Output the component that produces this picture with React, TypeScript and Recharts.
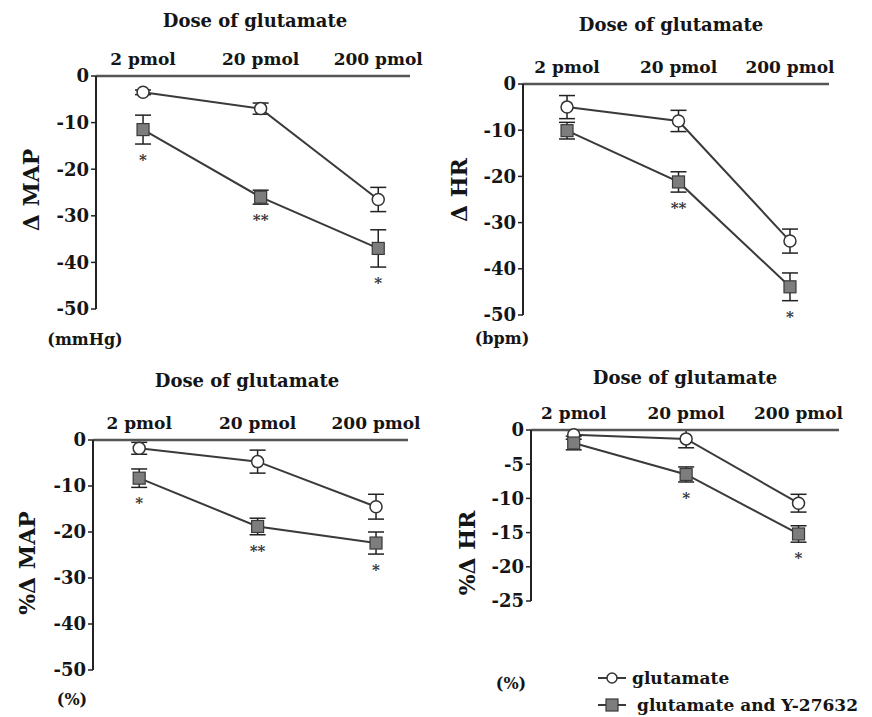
import React from 'react';
import { LineChart, Line, XAxis, YAxis, ErrorBar, LabelList, Legend } from 'recharts';

const categories = ['2 pmol', '20 pmol', '200 pmol'];
const seriesNames = ['glutamate', 'glutamate and Y-27632'];
const panelTitle = 'Dose of glutamate';

const mapGlu = [-3.5, -7, -26.5];
const mapGluErr = [0.5, 1.2, 2.6];
const mapY = [-11.5, -26, -37];
const mapYErr = [3.1, 1.5, 4];
const mapSig = ['*', '**', '*'];
const mapTicks = [0, -10, -20, -30, -40, -50];

const hrGlu = [-5, -8, -34];
const hrGluErr = [2.5, 2.3, 2.6];
const hrY = [-10.1, -21.2, -43.9];
const hrYErr = [1.8, 2.2, 3];
const hrSig = ['', '**', '*'];
const hrTicks = [0, -10, -20, -30, -40, -50];

const pMapGlu = [-1.8, -4.7, -14.5];
const pMapGluErr = [1.3, 2.5, 2.7];
const pMapY = [-8.3, -18.8, -22.4];
const pMapYErr = [2, 1.8, 2.4];
const pMapSig = ['*', '**', '*'];
const pMapTicks = [0, -10, -20, -30, -40, -50];

const pHrGlu = [-0.7, -1.3, -10.7];
const pHrGluErr = [0.65, 1.3, 1.3];
const pHrY = [-1.9, -6.5, -15.2];
const pHrYErr = [1, 1.1, 1.2];
const pHrSig = ['', '*', '*'];
const pHrTicks = [0, -5, -10, -15, -20, -25];

const FONT = '"DejaVu Serif", "Liberation Serif", serif';
const INK = '#151515';
const LINE = '#3a3a3a';

function build(g: number[], ge: number[], y: number[], ye: number[], sig: string[]) {
  return categories.map((c, i) => ({
    i,
    cat: c,
    g: g[i],
    ge: ge[i],
    y: y[i],
    ye: ye[i],
    lo: y[i] - ye[i],
    sig: sig[i],
  }));
}

const CircleDot = (p: any) => (
  <circle key={'c' + p.index} cx={p.cx} cy={p.cy} r={6} fill="#fff" stroke="#333" strokeWidth={1.5} />
);
const SquareDot = (p: any) => (
  <rect key={'s' + p.index} x={p.cx - 6} y={p.cy - 6} width={12} height={12} fill="#7d7d7d" stroke="#3a3a3a" strokeWidth={1.2} />
);

const SigLabel = (p: any) => {
  if (!p.value) return null;
  return (
    <text x={p.x} y={p.y + 21} textAnchor="middle" fontFamily={FONT} fontWeight="bold" fontSize={15} fill="#333">
      {p.value}
    </text>
  );
};

type PanelProps = {
  left: number; top: number; width: number; height: number;
  margin: { top: number; left: number; right: number; bottom: number };
  xDomain: [number, number];
  yDomain: [number, number];
  ticks: number[];
  data: any[];
  legend?: boolean;
};

function Panel(props: PanelProps) {
  const { left, top, width, height, margin, xDomain, yDomain, ticks, data, legend } = props;
  return (
    <div style={{ position: 'absolute', left, top, width, height }}>
      <LineChart width={width} height={height} data={data} margin={margin}>
        <XAxis
          dataKey="i"
          type="number"
          orientation="top"
          domain={xDomain}
          ticks={[0, 1, 2]}
          allowDataOverflow
          tickFormatter={(v: number) => categories[v] ?? ''}
          tickLine={false}
          axisLine={{ stroke: '#555', strokeWidth: 2.5 }}
          tickMargin={5}
          height={30}
          interval={0}
          tick={{ fontFamily: FONT, fontWeight: 'bold', fontSize: 17, fill: INK }}
        />
        <YAxis
          type="number"
          domain={yDomain}
          ticks={ticks}
          interval={0}
          width={40}
          tickSize={5}
          tickMargin={2}
          axisLine={{ stroke: '#222', strokeWidth: 2 }}
          tickLine={{ stroke: '#222', strokeWidth: 1.5 }}
          tick={{ fontFamily: FONT, fontWeight: 'bold', fontSize: 18, fill: INK }}
        />
        <Line
          dataKey="lo"
          stroke="none"
          dot={false}
          activeDot={false}
          legendType="none"
          isAnimationActive={false}
        >
          <LabelList dataKey="sig" content={SigLabel} />
        </Line>
        <Line
          dataKey="g"
          name={seriesNames[0]}
          stroke={LINE}
          strokeWidth={2}
          dot={CircleDot}
          activeDot={false}
          isAnimationActive={false}
        >
          <ErrorBar dataKey="ge" width={8} stroke="#222" strokeWidth={1.5} direction="y" />
        </Line>
        <Line
          dataKey="y"
          name={seriesNames[1]}
          stroke={LINE}
          strokeWidth={2}
          dot={SquareDot}
          activeDot={false}
          isAnimationActive={false}
        >
          <ErrorBar dataKey="ye" width={8} stroke="#222" strokeWidth={1.5} direction="y" />
        </Line>
        {legend && (
          <Legend
            wrapperStyle={{ position: 'absolute', left: 160, top: 304, width: 300 }}
            content={() => (
              <div style={{ fontFamily: FONT, fontWeight: 'bold', fontSize: 17, color: INK }}>
                {seriesNames.map((n, k) => (
                  <div key={n} style={{ display: 'flex', alignItems: 'center', height: 27 }}>
                    <svg width={32} height={20} style={{ marginRight: k === 0 ? 4 : 9 }}>
                      <line x1={2} y1={10} x2={30} y2={10} stroke={LINE} strokeWidth={2} />
                      {k === 0 ? (
                        <circle cx={16} cy={10} r={5} fill="#fff" stroke="#333" strokeWidth={1.5} />
                      ) : (
                        <rect x={10} y={4} width={12} height={12} fill="#7d7d7d" stroke="#3a3a3a" strokeWidth={1.2} />
                      )}
                    </svg>
                    <span style={{ whiteSpace: 'nowrap' }}>{n}</span>
                  </div>
                ))}
              </div>
            )}
          />
        )}
      </LineChart>
    </div>
  );
}

const textBase: React.CSSProperties = {
  position: 'absolute',
  fontFamily: FONT,
  fontWeight: 'bold',
  color: INK,
  whiteSpace: 'nowrap',
  lineHeight: 1,
};

function Title({ x, y }: { x: number; y: number }) {
  return <div style={{ ...textBase, left: x, top: y, fontSize: 18, transform: 'translate(-50%, -50%)' }}>{panelTitle}</div>;
}
function Unit({ x, y, text }: { x: number; y: number; text: string }) {
  return <div style={{ ...textBase, left: x, top: y, fontSize: 16, transform: 'translate(-50%, -50%)' }}>{text}</div>;
}
function YLabel({ x, y, text }: { x: number; y: number; text: string }) {
  return (
    <div style={{ ...textBase, left: x, top: y, fontSize: 22, transform: 'translate(-50%, -50%) rotate(-90deg)' }}>{text}</div>
  );
}

export default function App() {
  return (
    <div style={{ position: 'absolute', left: 0, top: 0, width: 872, height: 717, background: '#fff', overflow: 'hidden' }}>
      <Panel
        left={0} top={0} width={436} height={360}
        margin={{ top: 46, left: 56, right: 26, bottom: 51 }}
        xDomain={[-0.4, 2.27]} yDomain={[-50, 0]} ticks={mapTicks}
        data={build(mapGlu, mapGluErr, mapY, mapYErr, mapSig)}
      />
      <Panel
        left={436} top={0} width={436} height={360}
        margin={{ top: 54, left: 47, right: 43, bottom: 45 }}
        xDomain={[-0.395, 2.35]} yDomain={[-50, 0]} ticks={hrTicks}
        data={build(hrGlu, hrGluErr, hrY, hrYErr, hrSig)}
      />
      <Panel
        left={0} top={360} width={436} height={357}
        margin={{ top: 50, left: 53, right: 28, bottom: 47 }}
        xDomain={[-0.39, 2.27]} yDomain={[-50, 0]} ticks={pMapTicks}
        data={build(pMapGlu, pMapGluErr, pMapY, pMapYErr, pMapSig)}
      />
      <Panel
        left={436} top={360} width={436} height={357}
        margin={{ top: 40, left: 55, right: 33, bottom: 62 }}
        xDomain={[-0.38, 2.36]} yDomain={[-25, 0]} ticks={pHrTicks}
        data={build(pHrGlu, pHrGluErr, pHrY, pHrYErr, pHrSig)}
        legend
      />
      <Title x={255} y={21} />
      <Title x={671} y={25} />
      <Title x={247} y={381} />
      <Title x={685} y={378} />
      <YLabel x={31} y={190} text="Δ MAP" />
      <YLabel x={459} y={190} text="Δ HR" />
      <YLabel x={27} y={563} text="%Δ MAP" />
      <YLabel x={467} y={553} text="%Δ HR" />
      <Unit x={85} y={340} text="(mmHg)" />
      <Unit x={502} y={339} text="(bpm)" />
      <Unit x={72} y={700} text="(%)" />
      <Unit x={511} y={684} text="(%)" />
    </div>
  );
}
